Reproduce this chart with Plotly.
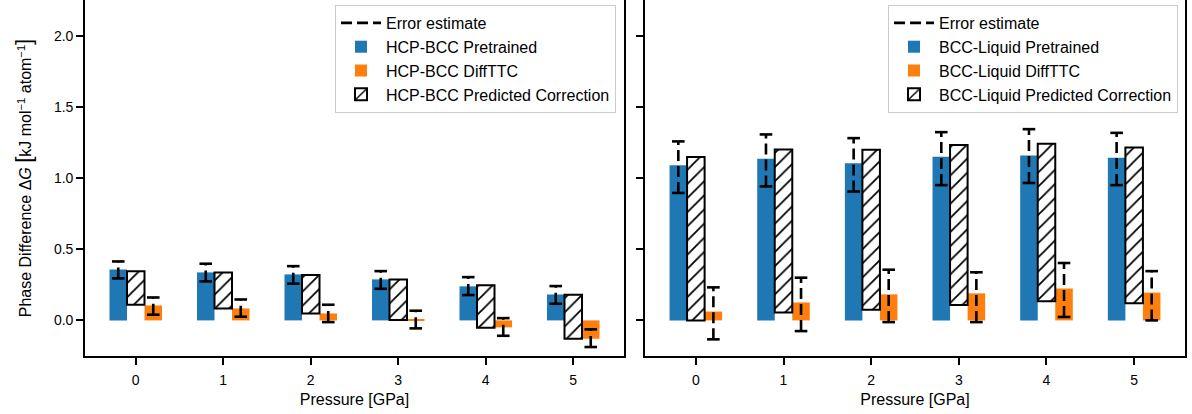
import numpy as np
import plotly.graph_objects as go

# ---------------- data ----------------
pressures = [0, 1, 2, 3, 4, 5]
tick_vals_y = [0.0, 0.5, 1.0, 1.5, 2.0]
tick_text_y = ["0.0", "0.5", "1.0", "1.5", "2.0"]

# HCP-BCC (left panel)
hcp_pretrained = [0.358, 0.337, 0.323, 0.288, 0.239, 0.182]
hcp_pretrained_err_lo = [0.295, 0.274, 0.258, 0.222, 0.178, 0.117]
hcp_pretrained_err_hi = [0.414, 0.398, 0.381, 0.346, 0.304, 0.241]
hcp_difftt = [0.105, 0.084, 0.049, 0.005, -0.049, -0.129]
hcp_difftt_err_lo = [0.040, 0.026, -0.012, -0.056, -0.108, -0.187]
hcp_difftt_err_hi = [0.161, 0.147, 0.110, 0.068, 0.016, -0.063]
hcp_corr_bottom = [0.110, 0.084, 0.049, 0.002, -0.051, -0.129]
hcp_corr_top = [0.346, 0.337, 0.318, 0.288, 0.246, 0.180]

# BCC-Liquid (right panel)
liq_pretrained = [1.089, 1.136, 1.103, 1.149, 1.158, 1.142]
liq_pretrained_err_lo = [0.895, 0.941, 0.905, 0.950, 0.965, 0.950]
liq_pretrained_err_hi = [1.257, 1.306, 1.280, 1.322, 1.343, 1.317]
liq_difftt = [0.062, 0.126, 0.183, 0.190, 0.224, 0.195]
liq_difftt_err_lo = [-0.133, -0.075, -0.012, -0.012, 0.024, 0.000]
liq_difftt_err_hi = [0.232, 0.300, 0.356, 0.338, 0.403, 0.346]
liq_corr_bottom = [0.000, 0.055, 0.075, 0.108, 0.135, 0.120]
liq_corr_top = [1.148, 1.200, 1.198, 1.231, 1.241, 1.215]

panels = [
    dict(prefix="HCP-BCC", pre=hcp_pretrained, pre_lo=hcp_pretrained_err_lo, pre_hi=hcp_pretrained_err_hi,
         dif=hcp_difftt, dif_lo=hcp_difftt_err_lo, dif_hi=hcp_difftt_err_hi,
         cb=hcp_corr_bottom, ct=hcp_corr_top, xa="x", ya="y", leg="legend"),
    dict(prefix="BCC-Liquid", pre=liq_pretrained, pre_lo=liq_pretrained_err_lo, pre_hi=liq_pretrained_err_hi,
         dif=liq_difftt, dif_lo=liq_difftt_err_lo, dif_hi=liq_difftt_err_hi,
         cb=liq_corr_bottom, ct=liq_corr_top, xa="x2", ya="y2", leg="legend2"),
]

BLUE = "#1f77b4"
ORANGE = "#ff7f0e"
FONT = "Liberation Sans, Arial, sans-serif"
W = 0.2
DASH = "11px,5px"

fig = go.Figure()
p = np.array(pressures, dtype=float)

for pn in panels:
    common = dict(xaxis=pn["xa"], yaxis=pn["ya"], legend=pn["leg"])
    fig.add_trace(go.Bar(x=p - W, y=pn["pre"], width=W, name=f"{pn['prefix']} Pretrained",
                         marker=dict(color=BLUE, line=dict(width=0)), legendrank=2, **common))
    fig.add_trace(go.Bar(x=p + W, y=pn["dif"], width=W, name=f"{pn['prefix']} DiffTTC",
                         marker=dict(color=ORANGE, line=dict(width=0)), legendrank=3, **common))
    cb = np.array(pn["cb"])
    ct = np.array(pn["ct"])
    fig.add_trace(go.Bar(x=p, y=ct - cb, base=cb, width=W, name=f"{pn['prefix']} Predicted Correction",
                         marker=dict(color="white", line=dict(color="black", width=2),
                                     pattern=dict(shape="/", fgcolor="black", bgcolor="white",
                                                  size=10, solidity=0.18, fillmode="replace")),
                         legendrank=4, **common))
    # error bars (dashed lines, drawn bottom to top)
    ex, ey = [], []
    cx, cy = [], []
    for xs, lo, hi in [(p - W, pn["pre_lo"], pn["pre_hi"]), (p + W, pn["dif_lo"], pn["dif_hi"])]:
        for xi, l, h in zip(xs, lo, hi):
            ex += [xi, xi, None]
            ey += [l, h, None]
            cx += [xi, xi]
            cy += [l, h]
    fig.add_trace(go.Scatter(x=ex, y=ey, mode="lines", name="Error estimate",
                             line=dict(color="black", width=2.6, dash=DASH),
                             legendrank=1, **common))
    fig.add_trace(go.Scatter(x=cx, y=cy, mode="markers", showlegend=False, hoverinfo="skip",
                             marker=dict(symbol="line-ew", size=9, line=dict(color="black", width=2.6)),
                             **common))

axis_common = dict(showline=True, linecolor="black", linewidth=1.6, mirror=True,
                   ticks="outside", ticklen=7, tickwidth=1.6, tickcolor="black",
                   showgrid=False, zeroline=False, automargin=False,
                   tickfont=dict(family=FONT, size=14, color="black"))

x_title = dict(text="Pressure [GPa]", font=dict(family=FONT, size=16, color="black"), standoff=7)

y_title_text = ("Phase Difference Δ<i>G</i> <span style='font-size:22px'>[</span>"
                "kJ mol<sup>−1</sup> atom<sup>−1</sup><span style='font-size:22px'>]</span>")

legend_common = dict(xanchor="right", yanchor="top",
                     bgcolor="rgba(255,255,255,0.85)", bordercolor="#cccccc", borderwidth=1,
                     font=dict(family=FONT, size=16, color="black"), traceorder="normal",
                     itemwidth=40, tracegroupgap=0)

fig.update_layout(
    width=1192, height=414,
    margin=dict(l=0, r=0, t=0, b=0, autoexpand=False),
    paper_bgcolor="white", plot_bgcolor="white",
    barmode="overlay",
    font=dict(family=FONT, color="black"),
    xaxis=dict(domain=[85 / 1192, 624 / 1192], range=[-0.58, 5.58], tickvals=pressures,
               anchor="y", title=x_title, ticklabelstandoff=3, **axis_common),
    xaxis2=dict(domain=[645 / 1192, 1185 / 1192], range=[-0.58, 5.58], tickvals=pressures,
                anchor="y2", title=x_title, ticklabelstandoff=3, **axis_common),
    yaxis=dict(domain=[58 / 414, 1.0], range=[-0.25, 2.25], tickvals=tick_vals_y, ticktext=tick_text_y,
               anchor="x",
               title=dict(text=y_title_text, font=dict(family=FONT, size=16, color="black"), standoff=18),
               **axis_common),
    yaxis2=dict(domain=[58 / 414, 1.0], range=[-0.25, 2.25], tickvals=tick_vals_y, showticklabels=False,
                anchor="x2", matches="y", **axis_common),
    legend=dict(x=616 / 1192, y=1 - 5 / 414, **legend_common),
    legend2=dict(x=1178 / 1192, y=1 - 5 / 414, **legend_common),
)

fig.write_html("out.html", config={"displayModeBar": False},
               post_script="document.body.style.margin='0';")
